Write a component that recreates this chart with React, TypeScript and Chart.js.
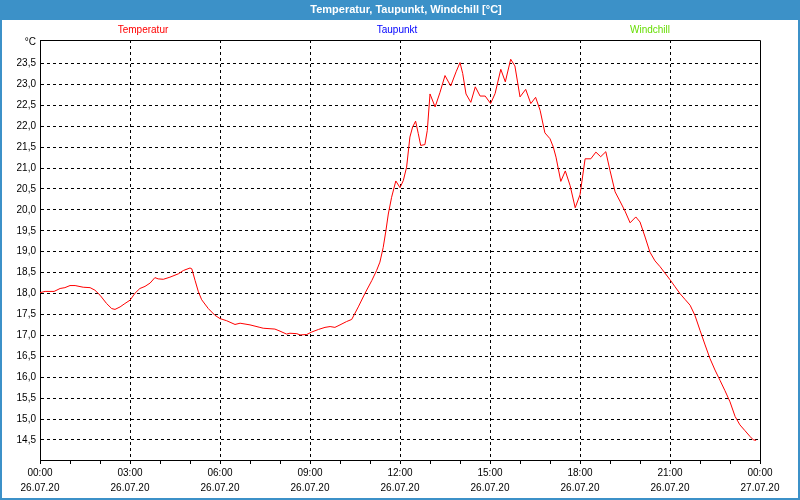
import React, { useEffect, useRef } from "react";
import { Chart, registerables } from "chart.js";

Chart.register(...registerables);

const chartTitle = "Temperatur, Taupunkt, Windchill [°C]";
const seriesNames = ["Temperatur", "Taupunkt", "Windchill"];
const seriesColors = ["#ff0000", "#0000ff", "#66dd00"];

// hours since 26.07.20 00:00
const hours = [
  0.0, 0.17, 0.47, 0.67, 0.83, 1.0, 1.17, 1.44, 1.67, 1.83, 2.0, 2.22, 2.39, 2.5, 2.67, 2.83,
  3.0, 3.17, 3.33, 3.5, 3.67, 3.83, 3.94, 4.11, 4.33, 4.61, 4.78, 5.0, 5.06, 5.17, 5.28, 5.39,
  5.61, 5.83, 6.0, 6.22, 6.5, 6.67, 7.0, 7.33, 7.44, 7.83, 8.0, 8.22, 8.33, 8.56, 8.67, 8.89,
  9.06, 9.28, 9.5, 9.67, 9.83, 10.0, 10.22, 10.39, 10.61, 10.83, 11.06, 11.22, 11.33, 11.44,
  11.53, 11.61, 11.72, 11.86, 12.0, 12.11, 12.22, 12.33, 12.42, 12.52, 12.61, 12.69, 12.83,
  12.91, 13.0, 13.17, 13.33, 13.5, 13.69, 13.87, 14.0, 14.09, 14.2, 14.36, 14.51, 14.67, 14.84,
  15.02, 15.17, 15.36, 15.51, 15.69, 15.83, 16.0, 16.19, 16.36, 16.52, 16.67, 16.83, 17.0,
  17.11, 17.2, 17.36, 17.51, 17.67, 17.84, 18.0, 18.17, 18.36, 18.53, 18.69, 18.86, 19.0,
  19.17, 19.33, 19.5, 19.67, 19.86, 20.0, 20.17, 20.33, 20.5, 20.67, 20.83, 21.0, 21.17,
  21.33, 21.5, 21.67, 21.83, 22.0, 22.17, 22.33, 22.5, 22.67, 22.83, 23.0, 23.17, 23.33,
  23.5, 23.67, 23.78, 23.87,
];

const temperatur = [
  18.02, 18.05, 18.05, 18.12, 18.14, 18.19, 18.19, 18.15, 18.14, 18.08, 17.96, 17.76, 17.64,
  17.62, 17.68, 17.76, 17.84, 18.01, 18.12, 18.17, 18.25, 18.38, 18.35, 18.34, 18.39, 18.47,
  18.55, 18.61, 18.59, 18.31, 18.04, 17.85, 17.64, 17.48, 17.4, 17.35, 17.26, 17.29, 17.25,
  17.19, 17.17, 17.15, 17.1, 17.03, 17.05, 17.04, 17.01, 17.02, 17.08, 17.14, 17.19, 17.21,
  17.19, 17.25, 17.33, 17.38, 17.68, 18.0, 18.31, 18.55, 18.75, 19.1, 19.5, 19.9, 20.3,
  20.69, 20.53, 20.7, 21.02, 21.74, 21.98, 22.12, 21.82, 21.54, 21.56, 21.9, 22.77, 22.46,
  22.8, 23.21, 22.96, 23.3, 23.52, 23.26, 22.77, 22.57, 22.94, 22.72, 22.72, 22.54, 22.78,
  23.36, 23.06, 23.6, 23.44, 22.7, 22.88, 22.54, 22.69, 22.38, 21.84, 21.7, 21.5, 21.26,
  20.68, 20.93, 20.58, 20.05, 20.36, 21.22, 21.22, 21.38, 21.27, 21.39, 20.94, 20.43, 20.21,
  19.97, 19.69, 19.83, 19.71, 19.35, 18.99, 18.78, 18.64, 18.49, 18.33, 18.16, 18.0, 17.86,
  17.72, 17.48, 17.12, 16.77, 16.45, 16.17, 15.92, 15.68, 15.41, 15.06, 14.86, 14.72, 14.58,
  14.5, 14.49,
];

const taupunkt: number[] = [];
const windchill: number[] = [];

const xTickHours = [0, 3, 6, 9, 12, 15, 18, 21, 24];
const xTickTimes = ["00:00", "03:00", "06:00", "09:00", "12:00", "15:00", "18:00", "21:00", "00:00"];
const xTickDates = ["26.07.20", "26.07.20", "26.07.20", "26.07.20", "26.07.20", "26.07.20", "26.07.20", "26.07.20", "27.07.20"];

const yTicks = [14.5, 15, 15.5, 16, 16.5, 17, 17.5, 18, 18.5, 19, 19.5, 20, 20.5, 21, 21.5, 22, 22.5, 23, 23.5, 24];
const yUnitTick = 24;
const yUnitLabel = "°C";

const FONT = "'Liberation Sans', Arial, sans-serif";
const HEADER_BLUE = "#3c91c8";

const framePlugin = {
  id: "frame",
  beforeDraw(chart: any) {
    const { ctx, width, height } = chart;
    ctx.save();
    ctx.fillStyle = "#ffffff";
    ctx.fillRect(0, 0, width, height);
    ctx.fillStyle = HEADER_BLUE;
    ctx.fillRect(0, 0, width, 20);
    ctx.strokeStyle = HEADER_BLUE;
    ctx.lineWidth = 2;
    ctx.strokeRect(1, 1, width - 2, height - 2);
    ctx.fillStyle = "#ffffff";
    ctx.font = "bold 11px " + FONT;
    ctx.textAlign = "center";
    ctx.textBaseline = "middle";
    ctx.fillText(chartTitle, 406, 10);
    ctx.font = "10px " + FONT;
    const xs = [143, 397, 650];
    seriesNames.forEach((n, i) => {
      ctx.fillStyle = seriesColors[i];
      ctx.fillText(n, xs[i], 30);
    });
    ctx.restore();
  },
  afterDraw(chart: any) {
    const { ctx, chartArea } = chart;
    ctx.save();
    ctx.strokeStyle = "#000000";
    ctx.lineWidth = 1;
    ctx.beginPath();
    ctx.moveTo(Math.round(chartArea.left) + 0.5, Math.round(chartArea.top) + 0.5);
    ctx.lineTo(Math.round(chartArea.right) + 0.5, Math.round(chartArea.top) + 0.5);
    ctx.lineTo(Math.round(chartArea.right) + 0.5, Math.round(chartArea.bottom) + 0.5);
    ctx.stroke();
    ctx.restore();
  },
};

export default function App() {
  const ref = useRef<HTMLCanvasElement>(null);

  useEffect(() => {
    if (!ref.current) return;
    const chart = new Chart(ref.current, {
      type: "line",
      data: {
        datasets: [
          {
            label: seriesNames[0],
            data: hours.map((h, i) => ({ x: h, y: temperatur[i] })),
            borderColor: seriesColors[0],
            borderWidth: 1,
            pointRadius: 0,
            tension: 0,
            fill: false,
          },
          {
            label: seriesNames[1],
            data: taupunkt.map((v, i) => ({ x: hours[i], y: v })),
            borderColor: seriesColors[1],
            borderWidth: 1,
            pointRadius: 0,
          },
          {
            label: seriesNames[2],
            data: windchill.map((v, i) => ({ x: hours[i], y: v })),
            borderColor: seriesColors[2],
            borderWidth: 1,
            pointRadius: 0,
          },
        ],
      },
      plugins: [framePlugin],
      options: {
        animation: false,
        responsive: false,
        devicePixelRatio: 1,
        layout: { padding: { left: 0, right: 40, top: 40, bottom: 0 } },
        plugins: {
          legend: { display: false },
          title: { display: false },
          tooltip: { enabled: false },
        },
        scales: {
          x: {
            type: "linear",
            min: 0,
            max: 24,
            afterBuildTicks: (scale: any) => {
              const t = [];
              for (let h = 0; h <= 24; h++) t.push({ value: h });
              scale.ticks = t;
            },
            afterFit: (scale: any) => {
              scale.height = 40;
            },
            ticks: {
              autoSkip: false,
              maxRotation: 0,
              padding: 2,
              color: "#000000",
              font: { family: FONT, size: 10, lineHeight: 1.45 },
              callback: (v: any) => {
                const idx = xTickHours.indexOf(Number(v));
                return idx >= 0 ? [xTickTimes[idx], xTickDates[idx]] : "";
              },
            },
            grid: {
              color: (ctx: any) => {
                const v = ctx.tick ? ctx.tick.value : -1;
                return v % 3 === 0 && v !== 0 && v !== 24 ? "#000000" : "rgba(0,0,0,0)";
              },
              tickColor: "#000000",
              tickLength: 4,
              lineWidth: 1,
            },
            border: { display: true, color: "#000000", width: 1, dash: [3, 3] },
          },
          y: {
            type: "linear",
            min: 14.02,
            max: 24.06,
            afterBuildTicks: (scale: any) => {
              scale.ticks = yTicks.map((v) => ({ value: v }));
            },
            afterFit: (scale: any) => {
              scale.width = 40;
            },
            ticks: {
              autoSkip: false,
              padding: 4,
              color: "#000000",
              font: { family: FONT, size: 10 },
              callback: (v: any) => {
                const n = Number(v);
                if (Math.abs(n - yUnitTick) < 1e-6) return yUnitLabel;
                return n.toFixed(1).replace(".", ",");
              },
            },
            grid: {
              drawTicks: false,
              color: (ctx: any) => {
                const v = ctx.tick ? ctx.tick.value : 0;
                return Math.abs(v - yUnitTick) < 1e-6 ? "rgba(0,0,0,0)" : "#000000";
              },
              lineWidth: 1,
            },
            border: { display: true, color: "#000000", width: 1, dash: [3, 3] },
          },
        },
      },
    });
    return () => chart.destroy();
  }, []);

  return (
    <div style={{ position: "fixed", left: 0, top: 0, width: 800, height: 500 }}>
      <canvas ref={ref} width={800} height={500} style={{ width: 800, height: 500, display: "block" }} />
    </div>
  );
}
